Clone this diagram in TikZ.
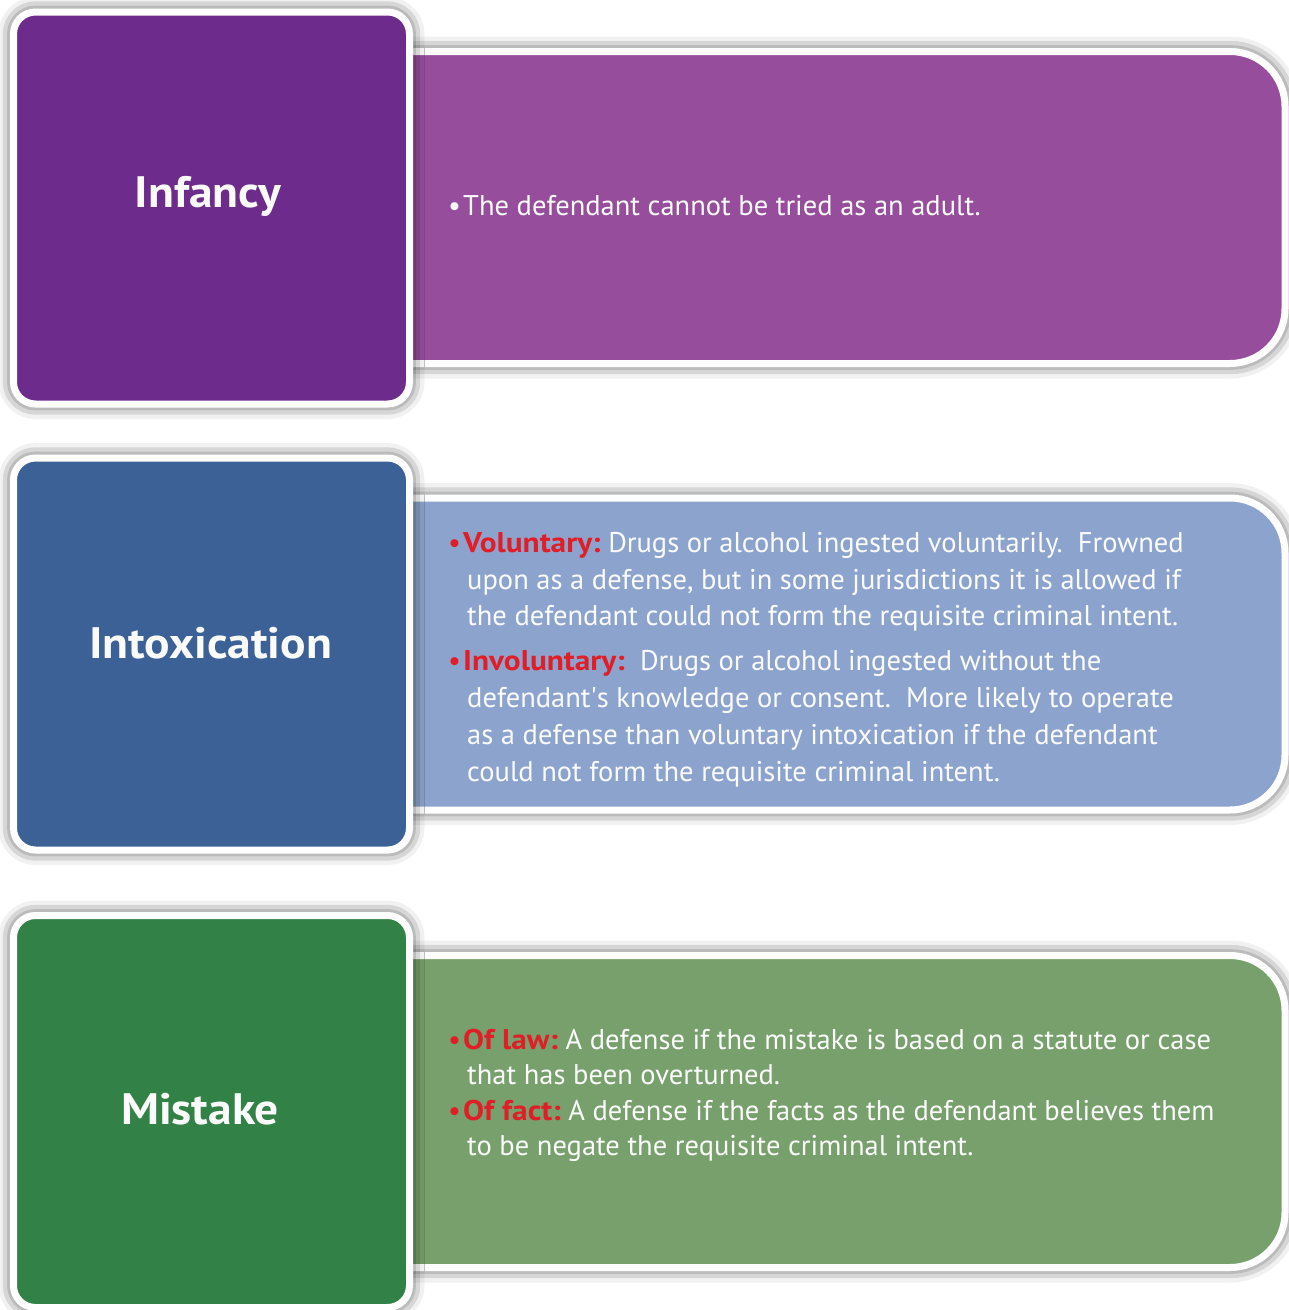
\documentclass[tikz,border=0pt]{standalone}
\usepackage{graphicx}
\usepackage{fontspec}
\setmainfont{PT Sans}
\usetikzlibrary{shadows.blur}
\definecolor{infD}{HTML}{6D2C8C}
\definecolor{infL}{HTML}{964E9C}
\definecolor{intD}{HTML}{3B6197}
\definecolor{intL}{HTML}{8CA4CD}
\definecolor{misD}{HTML}{328146}
\definecolor{misL}{HTML}{78A06C}
\definecolor{hired}{HTML}{E11E28}
\definecolor{txtw}{HTML}{FBFBFB}
\tikzset{
  glow/.style={blur shadow={shadow xshift=0pt, shadow yshift=0pt, shadow blur radius=15pt, shadow opacity=85}},
  headbox/.style={glow, draw=white, line width=7pt, rounded corners=22pt, inner sep=0pt,
    minimum width=396pt, minimum height=392pt},
  bodybox/.style={glow, draw=white, line width=7pt, rounded corners=55pt, inner sep=0pt,
    minimum width=985pt, minimum height=312pt},
  headtxt/.style={text=txtw, font=\fontsize{44}{50}\selectfont\bfseries, anchor=base, inner sep=0pt},
  txtline/.style={text=txtw, font=\fontsize{28.5}{34}\selectfont, anchor=base west, inner sep=0pt},
}
\newcommand{\rb}[1]{\makebox[15pt][l]{\textcolor{hired}{\textbullet}}\textcolor{hired}{\bfseries\scalebox{1.1}[1]{#1}}}
\newcommand{\hd}[1]{\scalebox{1.08}[1]{#1}}
\begin{document}
\begin{tikzpicture}[x=1pt,y=-1pt]
\useasboundingbox (0,0) rectangle (1289,1310);
% ---- row 1
\node[bodybox, fill=infL] (infB) at (792.5,207.5) {};
\node[headbox, fill=infD] (infH) at (211.5,208) {};
\node[headtxt] (infT) at (208,207) {\hd{Infancy}};
\node[txtline] (infL1) at (448,215) {\makebox[15pt][l]{\textbullet}The defendant cannot be tried as an adult.};
% ---- row 2
\node[bodybox, fill=intL] (intB) at (792.5,654) {};
\node[headbox, fill=intD] (intH) at (211.5,654) {};
\node[headtxt] (intT) at (210.5,658) {\hd{Intoxication}};
\node[txtline] (intL1) at (448,552) {\rb{Voluntary:} Drugs or alcohol ingested voluntarily.\ \ Frowned};
\node[txtline] (intL2) at (467,589) {upon as a defense, but in some jurisdictions it is allowed if};
\node[txtline] (intL3) at (467,625) {the defendant could not form the requisite criminal intent.};
\node[txtline] (intL4) at (448,670) {\rb{Involuntary:}\ \ Drugs or alcohol ingested without the};
\node[txtline] (intL5) at (467,707) {defendant\textquotesingle s knowledge or consent.\ \ More likely to operate};
\node[txtline] (intL6) at (467,744) {as a defense than voluntary intoxication if the defendant};
\node[txtline] (intL7) at (467,781) {could not form the requisite criminal intent.};
% ---- row 3
\node[bodybox, fill=misL] (misB) at (792.5,1111.5) {};
\node[headbox, fill=misD] (misH) at (211.5,1111.5) {};
\node[headtxt] (misT) at (200,1124) {\hd{Mistake}};
\node[txtline] (misL1) at (448,1049) {\rb{Of law:} A defense if the mistake is based on a statute or case};
\node[txtline] (misL2) at (467,1084) {that has been overturned.};
\node[txtline] (misL3) at (448,1120) {\rb{Of fact:} A defense if the facts as the defendant believes them};
\node[txtline] (misL4) at (467,1155) {to be negate the requisite criminal intent.};
\end{tikzpicture}
\end{document}
